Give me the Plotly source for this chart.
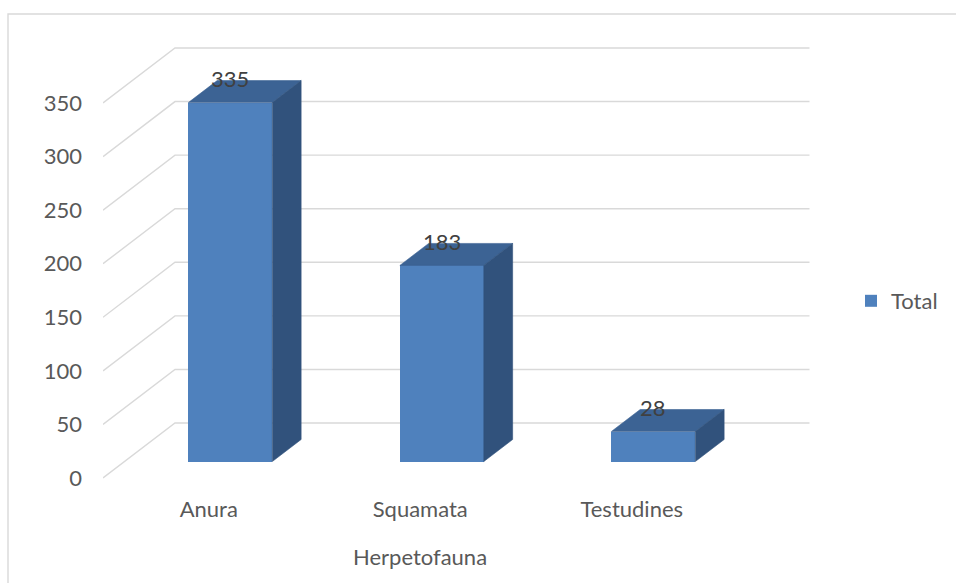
import plotly.graph_objects as go

# Herpetofauna records per order
categories = ["Anura", "Squamata", "Testudines"]
totals = [335, 183, 28]
y_ticks = [0, 50, 100, 150, 200, 250, 300, 350]
series_name = "Total"
x_title = "Herpetofauna"

# Figure geometry (pixels)
W, H = 956, 583
PL, PR, PT, PB = 103, 810, 40, 485        # plot area edges
CAT_PX = 211.5                            # pixels per category slot
VAL_PX = 375 / 350                        # pixels per value unit
ZERO_PX = 478                             # pixel row of value 0 on the front plane

# Oblique depth of the floor/back wall, in data units
DEPTH_DX = 72 / CAT_PX
DEPTH_DY = 55 / VAL_PX
BAR_W = 0.397
D_FRONT, D_BACK = 0.30, 0.70

FRONT = "#4F81BD"
TOP = "#3C6394"
SIDE = "#31527C"
GRID = "#D9D9D9"
TEXT = "#595959"
FONT = "Lato"


def proj(c, v, d):
    """Oblique projection of (category, value, depth) onto the x/y axes."""
    return c + d * DEPTH_DX, v + d * DEPTH_DY


x_range = [0, (PR - PL) / CAT_PX]
y_lo = -(PB - ZERO_PX) / VAL_PX
y_range = [y_lo, y_lo + (PB - PT) / VAL_PX]
n = len(categories)

fig = go.Figure()

# Front faces of the columns
fig.add_trace(go.Bar(
    x=[proj(i + 0.5, 0, D_FRONT)[0] for i in range(n)],
    y=totals,
    base=[proj(0, 0, D_FRONT)[1]] * n,
    width=BAR_W,
    marker=dict(color=FRONT, line=dict(width=0)),
    name=series_name,
    hoverinfo="skip",
))

# Top and side faces
top_x, top_y, side_x, side_y = [], [], [], []
for i, v in enumerate(totals):
    cl, cr = i + 0.5 - BAR_W / 2, i + 0.5 + BAR_W / 2
    for c, d in [(cl, D_FRONT), (cr, D_FRONT), (cr, D_BACK), (cl, D_BACK), (cl, D_FRONT)]:
        px, py = proj(c, v, d)
        top_x.append(px)
        top_y.append(py)
    top_x.append(None)
    top_y.append(None)
    for vv, d in [(0, D_FRONT), (v, D_FRONT), (v, D_BACK), (0, D_BACK), (0, D_FRONT)]:
        px, py = proj(cr, vv, d)
        side_x.append(px)
        side_y.append(py)
    side_x.append(None)
    side_y.append(None)

for xs, ys, col in [(top_x, top_y, TOP), (side_x, side_y, SIDE)]:
    fig.add_trace(go.Scatter(
        x=xs, y=ys, mode="lines", fill="toself", fillcolor=col,
        line=dict(color=col, width=0.6), showlegend=False, hoverinfo="skip",
    ))

# Gridlines: floor diagonal + back wall
shapes = []
for t in y_ticks:
    x0, y0 = proj(0, t, 0)
    x1, y1 = proj(0, t, 1)
    x2, y2 = proj(n, t, 1)
    shapes.append(dict(
        type="path", xref="x", yref="y", layer="below",
        path=f"M {x0},{y0} L {x1},{y1} L {x2},{y2}",
        line=dict(color=GRID, width=1.4),
    ))


def paper_x(px):
    return (px - PL) / (PR - PL)


def paper_y(py):
    return (PB - py) / (PB - PT)


# Chart frame (left and top edges)
shapes.append(dict(
    type="path", xref="paper", yref="paper", layer="below",
    path=f"M {paper_x(8)},{paper_y(H)} L {paper_x(8)},{paper_y(14)} L {paper_x(W)},{paper_y(14)}",
    line=dict(color=GRID, width=1.4),
))

annotations = []
for i, v in enumerate(totals):
    px, py = proj(i + 0.5, v, D_FRONT)
    annotations.append(dict(
        x=px, y=py, xref="x", yref="y", text=str(v), showarrow=False,
        yshift=24, font=dict(family=FONT, size=22, color="#404040"),
    ))
annotations.append(dict(
    x=n / 2, y=paper_y(556), xref="x", yref="paper", text=x_title,
    showarrow=False, yanchor="middle",
    font=dict(family=FONT, size=22, color=TEXT),
))

fig.update_layout(
    width=W, height=H, autosize=False,
    margin=dict(l=PL, r=W - PR, t=PT, b=H - PB),
    paper_bgcolor="white", plot_bgcolor="white",
    shapes=shapes, annotations=annotations,
    showlegend=True,
    legend=dict(
        x=paper_x(851), y=paper_y(301), xanchor="left", yanchor="middle",
        font=dict(family=FONT, size=22, color=TEXT), bgcolor="rgba(0,0,0,0)",
    ),
    xaxis=dict(
        range=x_range, tickmode="array",
        tickvals=[i + 0.5 for i in range(n)], ticktext=categories,
        showgrid=False, zeroline=False, showline=False, ticks="",
        ticklabelstandoff=9,
        tickfont=dict(family=FONT, size=22, color=TEXT), fixedrange=True,
    ),
    yaxis=dict(
        range=y_range, tickmode="array", tickvals=y_ticks,
        showgrid=False, zeroline=False, showline=False, ticks="",
        ticklabelstandoff=20,
        tickfont=dict(family=FONT, size=22, color=TEXT), fixedrange=True,
    ),
    bargap=0,
)

fig.write_html(
    "out.html",
    config={"responsive": False, "displayModeBar": False},
)
